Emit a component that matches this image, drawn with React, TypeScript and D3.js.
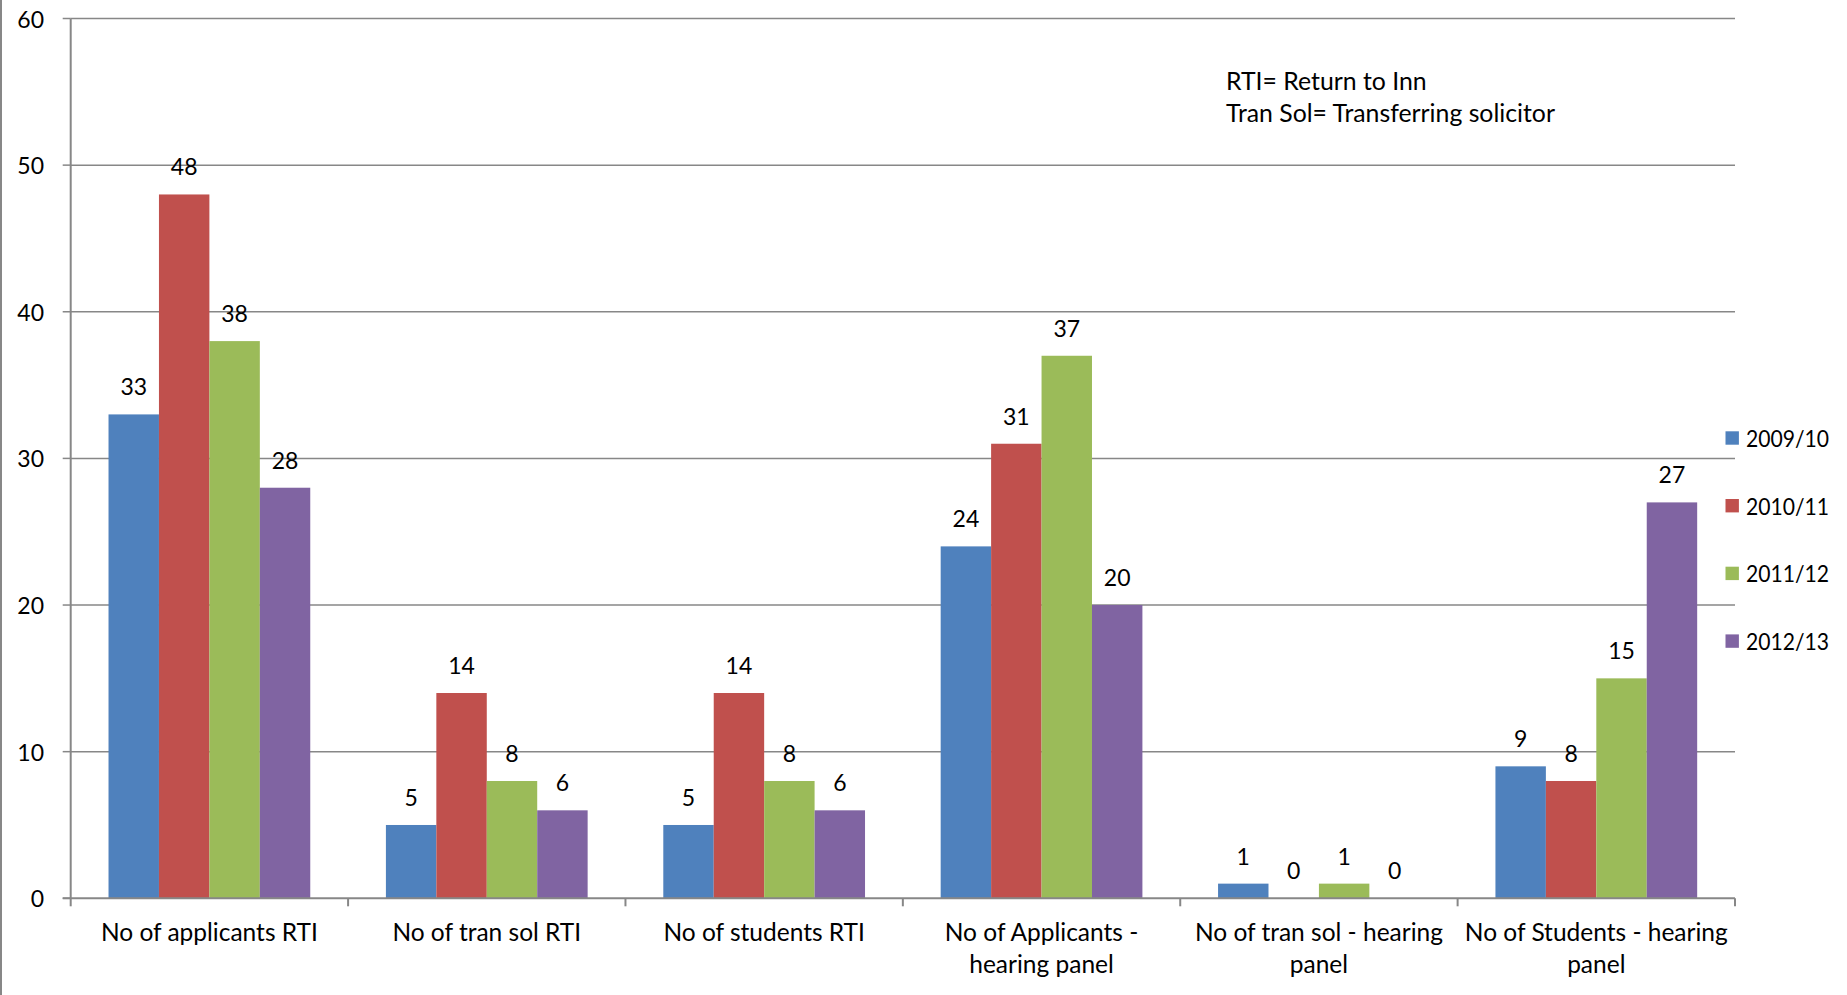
import React from "react";
import * as d3 from "d3";

// Category labels (as wrapped on the axis) and the yearly series
const categories: string[][] = [
  ["No of applicants RTI"],
  ["No of tran sol RTI"],
  ["No of students RTI"],
  ["No of Applicants -", "hearing panel"],
  ["No of tran sol - hearing", "panel"],
  ["No of Students - hearing", "panel"],
];
const seriesNames = ["2009/10", "2010/11", "2011/12", "2012/13"];
const seriesColors = ["#4F81BD", "#C0504D", "#9BBB59", "#8064A2"];
const values2009: number[] = [33, 5, 5, 24, 1, 9];
const values2010: number[] = [48, 14, 14, 31, 0, 8];
const values2011: number[] = [38, 8, 8, 37, 1, 15];
const values2012: number[] = [28, 6, 6, 20, 0, 27];
const seriesValues = [values2009, values2010, values2011, values2012];
const yTicks = [0, 10, 20, 30, 40, 50, 60];
const notes = ["RTI= Return to Inn", "Tran Sol= Transferring solicitor"];

const W = 1847;
const H = 995;
const left = 70.7;
const right = 1735;
const top = 18.5;
const bottom = 898.3;
const font = "Lato, 'Open Sans', sans-serif";
const gridColor = "#878787";

export default function App() {
  const x0 = d3
    .scaleBand<number>()
    .domain(categories.map((_, i) => i))
    .range([left, right])
    .paddingInner(0)
    .paddingOuter(0);
  const cw = x0.bandwidth();
  // 150% gap between clusters
  const gapFrac = 1.5 / 5.5;
  const x1 = d3
    .scaleBand<number>()
    .domain(seriesNames.map((_, i) => i))
    .range([(cw * gapFrac) / 2, cw - (cw * gapFrac) / 2]);
  const y = d3.scaleLinear().domain([0, 60]).range([bottom, top]);

  return (
    <div style={{ position: "absolute", left: 0, top: 0, background: "#fff" }}>
      <svg width={W} height={H} style={{ display: "block" }}>
        <rect x={0} y={0} width={W} height={H} fill="#fff" />
        <line x1={1} x2={1} y1={0} y2={H} stroke={gridColor} strokeWidth={2} />

        {/* horizontal gridlines and y ticks */}
        {yTicks.map((t) => (
          <g key={t}>
            {t > 0 && (
              <line x1={left} x2={right} y1={y(t)} y2={y(t)} stroke={gridColor} strokeWidth={1.5} />
            )}
            <line x1={left - 8} x2={left} y1={y(t)} y2={y(t)} stroke={gridColor} strokeWidth={1.5} />
            <text
              x={44}
              y={y(t)}
              textAnchor="end"
              dominantBaseline="central"
              fontFamily={font}
              fontSize={23}
              fill="#000"
            >
              {t}
            </text>
          </g>
        ))}

        {/* bars */}
        {categories.map((_, ci) =>
          seriesValues.map((vals, si) => {
            const v = vals[ci];
            const bx = (x0(ci) as number) + (x1(si) as number);
            return (
              <rect
                key={`${ci}-${si}`}
                x={bx}
                y={y(v)}
                width={x1.bandwidth()}
                height={bottom - y(v)}
                fill={seriesColors[si]}
              />
            );
          })
        )}

        {/* value labels */}
        {categories.map((_, ci) =>
          seriesValues.map((vals, si) => {
            const v = vals[ci];
            const bx = (x0(ci) as number) + (x1(si) as number) + x1.bandwidth() / 2;
            return (
              <text
                key={`l${ci}-${si}`}
                x={bx}
                y={y(v) - 19}
                textAnchor="middle"
                fontFamily={font}
                fontSize={23}
                fill="#000"
              >
                {v}
              </text>
            );
          })
        )}

        {/* axes */}
        <line x1={left} x2={left} y1={top} y2={bottom} stroke={gridColor} strokeWidth={2} />
        <line x1={left - 8} x2={right} y1={bottom} y2={bottom} stroke={gridColor} strokeWidth={2} />
        {d3.range(categories.length + 1).map((i) => {
          const tx = left + i * cw;
          return <line key={`t${i}`} x1={tx} x2={tx} y1={bottom} y2={bottom + 8} stroke={gridColor} strokeWidth={2} />;
        })}

        {/* category labels */}
        {categories.map((lines, ci) => (
          <text
            key={`c${ci}`}
            x={(x0(ci) as number) + cw / 2}
            y={941}
            textAnchor="middle"
            fontFamily={font}
            fontSize={24.5}
            fill="#000"
          >
            {lines.map((ln, li) => (
              <tspan key={li} x={(x0(ci) as number) + cw / 2} dy={li === 0 ? 0 : 31.5}>
                {ln}
              </tspan>
            ))}
          </text>
        ))}

        {/* notes */}
        {notes.map((n, i) => (
          <text key={`n${i}`} x={1226} y={90 + i * 32} fontFamily={font} fontSize={24.8} fill="#000">
            {n}
          </text>
        ))}

        {/* legend */}
        {seriesNames.map((s, i) => {
          const cy = 438 + i * 67.7;
          return (
            <g key={s}>
              <rect x={1725.5} y={cy - 6.7} width={13.4} height={13.4} fill={seriesColors[i]} />
              <text
                x={1746}
                y={cy}
                dominantBaseline="central"
                fontFamily={font}
                fontSize={23}
                textLength={83}
                lengthAdjust="spacingAndGlyphs"
                fill="#000"
              >
                {s}
              </text>
            </g>
          );
        })}
      </svg>
    </div>
  );
}
